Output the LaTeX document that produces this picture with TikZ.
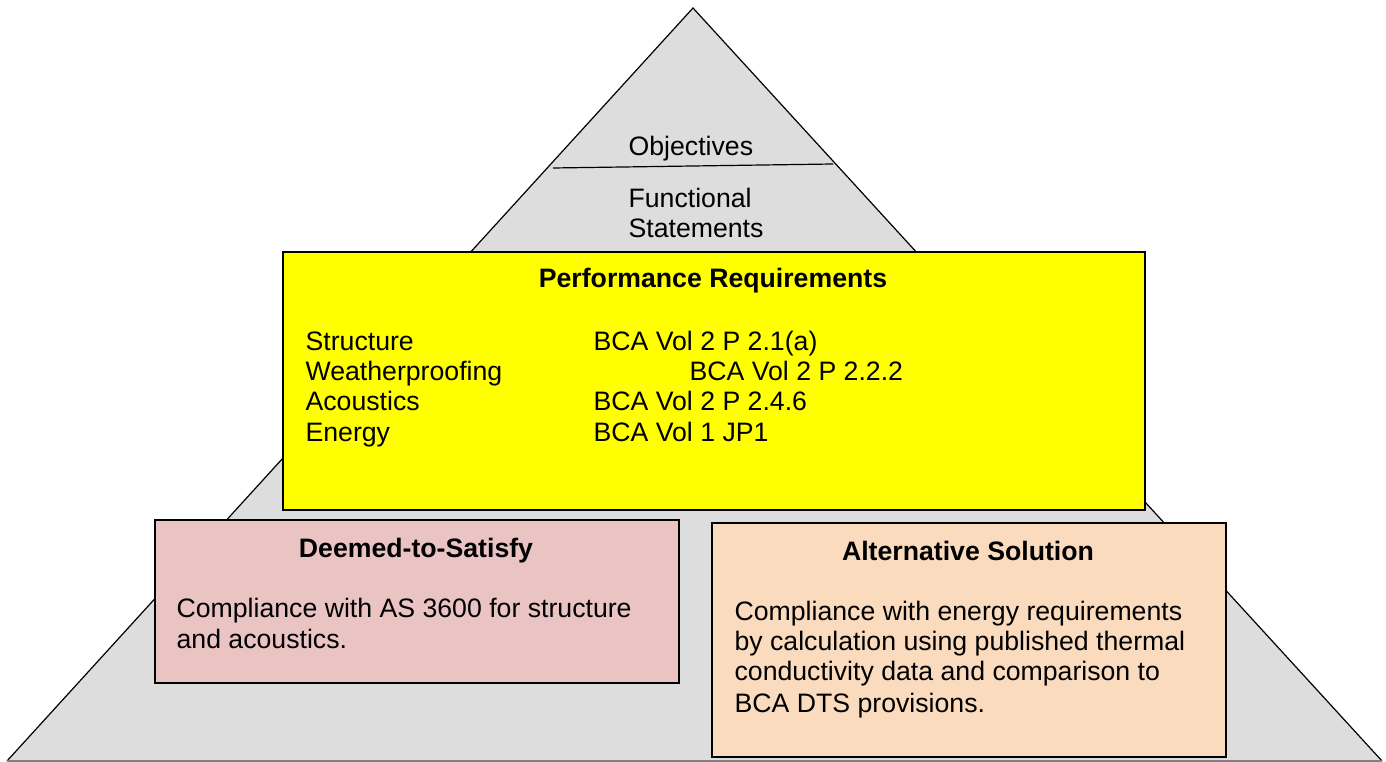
\documentclass[tikz,border=0pt]{standalone}
\usepackage{fontspec}
\setmainfont{Liberation Sans}
\usepackage{xcolor}
\definecolor{pyrgray}{RGB}{221,221,221}
\definecolor{perfyellow}{RGB}{255,255,0}
\definecolor{dtspink}{RGB}{234,195,195}
\definecolor{altpeach}{RGB}{250,219,190}
\tikzset{txt/.style={anchor=base west,inner sep=0.75pt,font=\fontsize{20}{23}\selectfont},
  head/.style={anchor=base,inner sep=0.75pt,font=\fontsize{20}{23}\selectfont\bfseries}}

\begin{document}
\begin{tikzpicture}[x=0.75pt,y=0.75pt,yscale=-1,xscale=1,line width=0.9pt]
\useasboundingbox (0,0) rectangle (1386,762);

% pyramid
\fill[pyrgray] (693,8) -- (1382,761) -- (7,761) -- cycle ;
\draw (7,761) -- (693,8) -- (1382,761) ;
\draw[gray] (7,761) -- (1382,761) ;
\draw   (553,168) -- (833,164) ;

\draw (627,156) node [txt] (obj) {Objectives};
\draw (627,208) node [txt] (func1) {Functional};
\draw (627,238) node [txt] (func2) {Statements};

% performance requirements
\draw[fill=perfyellow]  (283,252) -- (1145,252) -- (1145,510) -- (283,510) -- cycle ;
\draw (713,288) node [head] (perf) {Performance Requirements};
\draw (304,351) node [txt] (s1) {Structure};
\draw (304,381) node [txt] (s2) {Weatherproofing};
\draw (304,411) node [txt] (s3) {Acoustics};
\draw (304,442) node [txt] (s4) {Energy};
\draw (592,351) node [txt] (r1) {BCA Vol 2 P 2.1(a)};
\draw (688,381) node [txt] (r2) {BCA Vol 2 P 2.2.2};
\draw (592,411) node [txt] (r3) {BCA Vol 2 P 2.4.6};
\draw (592,442) node [txt] (r4) {BCA Vol 1 JP1};

% deemed-to-satisfy
\draw[fill=dtspink]  (155,520) -- (679,520) -- (679,683) -- (155,683) -- cycle ;
\draw (416,558) node [head] (dts) {Deemed-to-Satisfy};
\draw (175,618) node [txt] (d1) {Compliance with AS 3600 for structure};
\draw (175,648) node [txt] (d2) {and acoustics.};

% alternative solution
\draw[fill=altpeach]  (712,523) -- (1226,523) -- (1226,757) -- (712,757) -- cycle ;
\draw (968,561) node [head] (alt) {Alternative Solution};
\draw (733,621) node [txt] (a1) {Compliance with energy requirements};
\draw (733,651) node [txt] (a2) {by calculation using published thermal};
\draw (733,681) node [txt] (a3) {conductivity data and comparison to};
\draw (733,712) node [txt] (a4) {BCA DTS provisions.};

\end{tikzpicture}
\end{document}
